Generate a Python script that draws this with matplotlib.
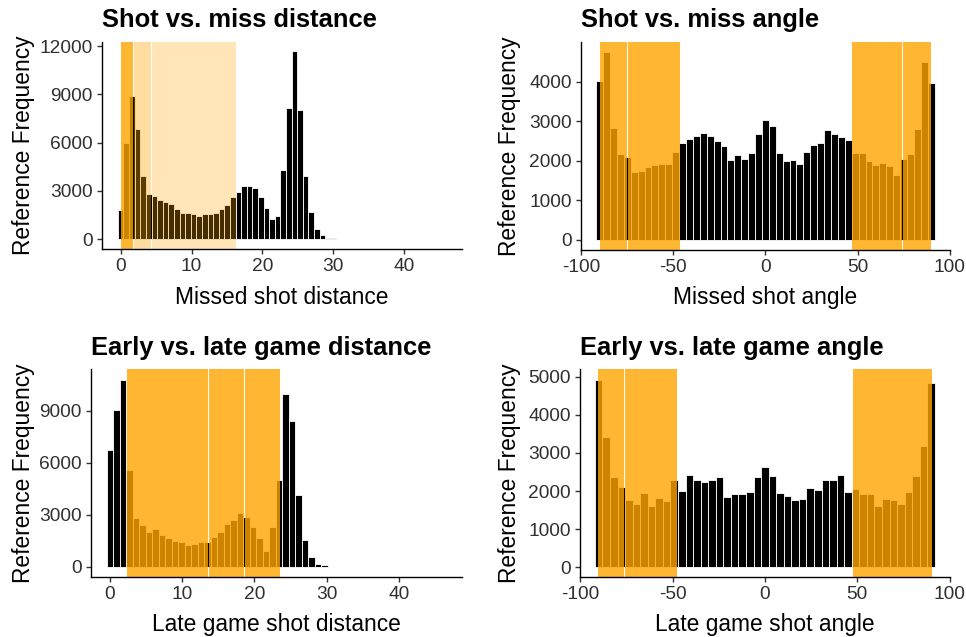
import numpy as np
import matplotlib
matplotlib.use("Agg")
import matplotlib.pyplot as plt

plt.rcParams["font.family"] = ["Liberation Sans", "DejaVu Sans"]
plt.rcParams["axes.unicode_minus"] = False

ORANGE = "#FFA500"

# --- Shot vs. miss distance -------------------------------------------------
miss_dist_start, miss_dist_width = 0.0, 0.79
miss_dist_counts = [1800, 6000, 8900, 6870, 3940, 2820, 2680, 2470, 2300, 2220,
                    1870, 1620, 1620, 1560, 1470, 1560, 1560, 1620, 1890, 2160,
                    2600, 2910, 3340, 3340, 3200, 2600, 1930, 1250, 1470, 4320,
                    8140, 11670, 8060, 3940, 1700, 660, 270, 80, 80]
miss_dist_spans = [(0.05, 1.69, 0.8), (1.88, 4.23, 0.37), (4.41, 16.2, 0.28)]

# --- Shot vs. miss angle ----------------------------------------------------
miss_angle_start, miss_angle_width = -90.0, 3.75
miss_angle_counts = [4016, 4757, 2838, 2172, 2105, 1718, 1743, 1836, 1895, 1928,
                     1928, 2231, 2442, 2560, 2619, 2711, 2619, 2501, 2383, 2012,
                     2139, 2046, 2198, 2680, 3023, 2871, 2198, 1987, 2012, 1928,
                     2231, 2391, 2442, 2770, 2686, 2593, 2534, 2198, 2198, 1987,
                     1895, 1953, 1861, 1650, 2046, 2172, 2804, 4505, 3957]
miss_angle_spans = [(-89.6, -75.0, 0.8), (-74.4, -46.4, 0.8),
                    (46.9, 74.2, 0.8), (74.9, 89.8, 0.8)]

# --- Early vs. late game distance -------------------------------------------
late_dist_start, late_dist_width = 0.0, 0.9
late_dist_counts = [6760, 9040, 10770, 5570, 2790, 2390, 2020, 2180, 1830, 1680,
                    1470, 1410, 1270, 1330, 1410, 1410, 1700, 2020, 2450, 2720,
                    3080, 2850, 2290, 1680, 910, 2310, 5010, 9960, 8420, 4120,
                    1540, 560, 150, 80]
late_dist_spans = [(2.33, 13.55, 0.8), (13.7, 18.6, 0.8), (18.75, 23.58, 0.8)]

# --- Early vs. late game angle ----------------------------------------------
late_angle_start, late_angle_width = -90.0, 180.0 / 44
late_angle_counts = [4918, 3430, 2363, 2109, 1759, 1663, 1951, 1610, 1829, 1733,
                     2293, 2013, 2415, 2301, 2231, 2293, 2363, 1855, 1916, 1916,
                     1978, 2363, 2643, 2389, 1951, 1864, 1759, 1794, 2083, 2039,
                     2301, 2301, 2415, 1978, 2048, 1916, 1916, 1610, 1794, 1759,
                     1663, 1978, 2389, 3176, 4848]
late_angle_spans = [(-90.1, -76.2, 0.8), (-75.5, -47.6, 0.8), (47.5, 90.5, 0.8)]

W, H = 966, 637


def panel(fig, box, title, xlabel, start, width, counts, spans,
          xlim, ylim, xticks, yticks, ylab_x):
    left, top, right, bottom = box
    ax = fig.add_axes([left / W, 1 - bottom / H, (right - left) / W, (bottom - top) / H])
    centers = start + width * np.arange(len(counts))
    ax.bar(centers, counts, width=width, color="black",
           edgecolor="white", linewidth=0.6, zorder=1)
    for lo, hi, a in spans:
        ax.axvspan(lo, hi, color=ORANGE, alpha=a, lw=0, zorder=2)
    ax.set_xlim(*xlim)
    ax.set_ylim(*ylim)
    ax.set_xticks(xticks)
    ax.set_yticks(yticks)
    for s in ("top", "right"):
        ax.spines[s].set_visible(False)
    for s in ("left", "bottom"):
        ax.spines[s].set_linewidth(1.0)
        ax.spines[s].set_color("black")
    ax.tick_params(length=3.6, width=1.0, color="#333333", labelsize=13.8,
                   labelcolor="#303030", pad=3.0)
    ax.set_title(title, loc="left", fontsize=18.4, fontweight="bold", pad=10.5)
    ax.set_xlabel(xlabel, fontsize=16.4)
    ax.set_ylabel("Reference Frequency", fontsize=16.4)
    ax.xaxis.set_label_coords(0.5, -0.175)
    ax.yaxis.set_label_coords(ylab_x, 0.5)
    return ax


fig = plt.figure(figsize=(W / 100, H / 100), dpi=100)

panel(fig, (101.7, 42, 461.7, 249.3), "Shot vs. miss distance", "Missed shot distance",
      miss_dist_start, miss_dist_width, miss_dist_counts, miss_dist_spans,
      (-2.68, 48.1), (-621, 12253), [0, 10, 20, 30, 40],
      [0, 3000, 6000, 9000, 12000], -0.185)

panel(fig, (581, 41.7, 950, 250), "Shot vs. miss angle", "Missed shot angle",
      miss_angle_start, miss_angle_width, miss_angle_counts, miss_angle_spans,
      (-100.1, 100.2), (-253, 5008), [-100, -50, 0, 50, 100],
      [0, 1000, 2000, 3000, 4000], -0.163)

panel(fig, (91, 369.3, 461.7, 577), "Early vs. late game distance", "Late game shot distance",
      late_dist_start, late_dist_width, late_dist_counts, late_dist_spans,
      (-2.63, 48.7), (-595, 11410), [0, 10, 20, 30, 40],
      [0, 3000, 6000, 9000], -0.151)

panel(fig, (580, 369.3, 950, 577), "Early vs. late game angle", "Late game shot angle",
      late_angle_start, late_angle_width, late_angle_counts, late_angle_spans,
      (-100.1, 100.2), (-255, 5197), [-100, -50, 0, 50, 100],
      [0, 1000, 2000, 3000, 4000, 5000], -0.159)

fig.savefig("out.png", dpi=100)
